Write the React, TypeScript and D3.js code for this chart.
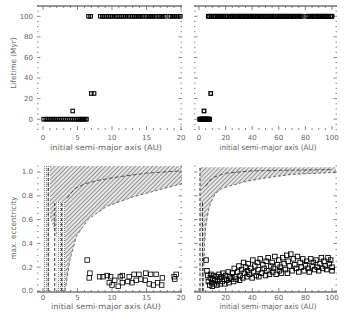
import React from 'react';
import * as d3 from 'd3';

// ---- axis ticks / labels ----
const lifeTicks = [0, 20, 40, 60, 80, 100];
const eccTicks = [0, 0.2, 0.4, 0.6, 0.8, 1.0];
const aTicksNear = [0, 5, 10, 15, 20];
const aTicksFar = [0, 20, 40, 60, 80, 100];

// ---- lifetime panels (Myr) ----
const tlShortA = [0.1, 0.4, 0.7, 1.0, 1.3, 1.6, 1.9, 2.2, 2.5, 2.8, 3.1, 3.4, 3.7, 4.0, 4.3, 4.6, 4.9, 5.1, 5.3, 5.5, 5.7, 5.9, 6.1, 6.3];
const tlLongA = [6.6, 6.9, 8.3, 8.6, 8.9, 9.2, 9.5, 9.8, 10.1, 10.5, 10.8, 11.1, 11.4, 11.7, 12.0, 12.4, 12.7, 13.0, 13.3, 13.6, 13.9, 14.2, 14.5, 14.9, 15.2, 15.5, 15.8, 16.1, 16.4, 16.8, 17.1, 17.4, 17.7, 18.4, 18.7, 19.0, 19.3, 19.6, 19.9];
const tlOther = [[4.3, 8], [7.0, 25], [7.4, 25]];

const trShortA = [0.5, 1, 1.5, 2, 2.5, 3, 3.5, 4, 4.5, 5, 5.5, 6, 6.5, 7, 7.5, 8];
const trLongA = [7, 8, 9.5, 11, 12, 13.5, 15, 16, 17, 18.5, 20, 21, 22.5, 24, 25, 26, 27.5, 29, 30, 31, 32.5, 34, 35, 36, 37.5, 39, 40, 41, 42.5, 44, 45, 46, 47.5, 49, 50, 51, 52.5, 54, 55, 56, 57.5, 59, 60, 61, 62.5, 64, 65, 66, 67.5, 69, 70, 71, 72.5, 74, 75, 76, 77, 81, 82.5, 84, 85, 86, 87.5, 89, 90, 91, 92.5, 94, 95, 96, 97.5, 99, 100];
const trOther = [[3.8, 8], [8.8, 25]];

// ---- eccentricity panels ----
const blPoints = [[6.4, 0.26], [6.8, 0.15], [6.7, 0.11], [8.2, 0.12], [8.7, 0.12], [9.3, 0.13], [9.8, 0.12], [9.6, 0.07], [10.0, 0.05], [10.4, 0.09], [10.9, 0.04], [11.2, 0.12], [11.5, 0.13], [11.5, 0.07], [12.3, 0.08], [12.5, 0.12], [12.9, 0.07], [13.2, 0.14], [13.5, 0.09], [13.9, 0.14], [14.2, 0.10], [14.8, 0.09], [14.9, 0.15], [15.4, 0.06], [15.6, 0.14], [16.0, 0.05], [16.4, 0.14], [16.6, 0.07], [17.2, 0.05], [17.3, 0.11], [19.0, 0.12], [19.3, 0.14], [19.1, 0.10]];

const brPoints = [[5.3, 0.26], [6, 0.17], [6.5, 0.13], [7, 0.08], [8, 0.05], [8.5, 0.11], [9, 0.14], [9.5, 0.07], [10, 0.04], [10.5, 0.10], [11, 0.13], [11.5, 0.06], [12, 0.09], [13, 0.12], [13.5, 0.05], [14, 0.08], [15, 0.14], [15.5, 0.10], [16, 0.06], [17, 0.12], [17.5, 0.08], [18, 0.15], [19, 0.10], [19.5, 0.06], [20, 0.13], [21, 0.09], [22, 0.16], [22.5, 0.07], [23, 0.12], [24, 0.10], [25, 0.15], [26, 0.08], [26.5, 0.19], [27, 0.12], [28, 0.10], [29, 0.16], [30, 0.21], [30.5, 0.09], [31, 0.13], [32, 0.18], [33, 0.11], [33.5, 0.24], [34, 0.15], [35, 0.20], [36, 0.12], [36.5, 0.17], [37, 0.23], [38, 0.14], [39, 0.19], [40, 0.11], [40.5, 0.26], [41, 0.16], [42, 0.21], [43, 0.13], [44, 0.24], [44.5, 0.18], [45, 0.12], [46, 0.27], [47, 0.15], [48, 0.22], [49, 0.19], [50, 0.13], [50.5, 0.25], [51, 0.17], [52, 0.28], [53, 0.14], [54, 0.21], [55, 0.24], [55.5, 0.16], [56, 0.19], [57, 0.29], [58, 0.14], [59, 0.22], [60, 0.26], [60.5, 0.17], [61, 0.20], [62, 0.15], [63, 0.28], [64, 0.23], [65, 0.18], [66, 0.30], [66.5, 0.15], [67, 0.25], [68, 0.21], [69, 0.31], [70, 0.17], [71, 0.27], [72, 0.22], [73, 0.19], [74, 0.29], [75, 0.16], [76, 0.24], [77, 0.20], [78, 0.27], [79, 0.17], [80, 0.22], [81, 0.25], [82, 0.19], [83, 0.16], [84, 0.27], [85, 0.21], [86, 0.24], [87, 0.18], [88, 0.26], [89, 0.20], [90, 0.17], [91, 0.23], [92, 0.28], [93, 0.19], [94, 0.25], [95, 0.21], [96, 0.18], [97, 0.28], [98, 0.23], [99, 0.26], [100, 0.20], [100, 0.17]];

// unstable zones (a, e)
const blLower = [[3.2, 0], [3.9, 0.26], [4.85, 0.46], [6.5, 0.6], [9.2, 0.71], [13, 0.79], [16.8, 0.85], [20, 0.9], [20.6, 0.9]];
const blUpper = [[3.5, 0.78], [4.6, 0.86], [6, 0.9], [8, 0.93], [11, 0.96], [15, 0.99], [20, 1.01]];
const blLeftEdge = [[3.2, 0], [2.0, 0], [2.0, 0.45], [1.0, 0.62], [1.0, 1.06], [20.6, 1.06]];
const blStrips = [[0, 1.0, 1.06], [2.0, 3.2, 0.75]];
const blDashV = [[0.75, 1.06], [2.7, 0.75], [1.7, 0.75]];

const brLower = [[3.4, 0], [3.7, 0.2], [4.2, 0.4], [5, 0.54], [7.5, 0.7], [10, 0.77], [12.5, 0.82], [17, 0.86], [22.5, 0.88], [35, 0.92], [50, 0.95], [70, 0.98], [100, 0.995], [103, 0.995]];
const brUpper = [[5, 0.88], [8, 0.93], [12, 0.96], [20, 0.99], [40, 1.01], [100, 1.02]];
const brLeftEdge = [[3.4, 0], [2.0, 0], [2.0, 0.45], [1.0, 0.62], [1.0, 1.04], [103, 1.04]];
const brStrips = [[0, 1.0, 1.04], [2.0, 3.2, 0.75]];
const brDashV = [[0.75, 1.04], [2.7, 0.75]];

// ---- layout ----
const W = 364, H = 325;
const nearL = 37, nearR = 182, farL = 194, farR = 337;
const topT = 6, topB = 130, botT = 166, botB = 292;

const sxNear = d3.scaleLinear().domain([0, 20]).range([43, 181]);
const sxFar = d3.scaleLinear().domain([0, 100]).range([199, 332]);
const syLife = d3.scaleLinear().domain([0, 100]).range([119.2, 16.3]);
const syEcc = d3.scaleLinear().domain([0, 1]).range([291, 172]);

const TXT = '#666';
const TICK = '#555';
const FONT = 'DejaVu Sans, sans-serif';

function Axes({ sx, sy, left, right, top, bottom, xMaj, xMinStep, yMaj, yMinStep, yMinFrom, yLabels, yFmt, xLabelY, topLine, bottomLine, topTicks }) {
  const inX = (v) => sx(v) >= left - 0.5 && sx(v) <= right + 0.5;
  const inY = (v) => sy(v) >= top && sy(v) <= bottom;
  const xMin = d3.range(sx.domain()[0], sx.domain()[1] + 0.001, xMinStep).filter(inX);
  const yMin = d3.range(yMinFrom, sy.domain()[1] * 1.2, yMinStep).filter(inY);
  return (
    <g stroke={TICK} strokeWidth={0.7}>
      {topLine && <line x1={left} x2={right} y1={top} y2={top} strokeWidth={1} stroke="#333" />}
      {bottomLine && <line x1={left} x2={right} y1={bottom} y2={bottom} strokeWidth={1} stroke="#333" />}
      {xMin.map((v, i) => {
        const maj = xMaj.includes(+v.toFixed(4));
        const len = maj ? 4 : 2;
        return (
          <g key={'x' + i}>
            <line x1={sx(v)} x2={sx(v)} y1={bottom} y2={bottom - len} />
            {topTicks && <line x1={sx(v)} x2={sx(v)} y1={top} y2={top + len} />}
          </g>
        );
      })}
      {yMin.map((v, i) => {
        const maj = yMaj.some((m) => Math.abs(m - v) < 1e-6);
        const len = maj ? 3.5 : 1.5;
        return (
          <g key={'y' + i}>
            <line x1={left} x2={left + len} y1={sy(v)} y2={sy(v)} />
            <line x1={right} x2={right - len} y1={sy(v)} y2={sy(v)} />
          </g>
        );
      })}
      <g stroke="none" fill={TXT} fontFamily={FONT} fontSize={7}>
        {xMaj.map((v) => (
          <text key={'xl' + v} x={sx(v)} y={xLabelY} textAnchor="middle">{v}</text>
        ))}
        {yLabels && yMaj.map((v) => (
          <text key={'yl' + v} x={33} y={sy(v)} dy="0.35em" textAnchor="end">{yFmt(v)}</text>
        ))}
      </g>
    </g>
  );
}

function Squares({ pts, sx, sy, size, sw }) {
  return (
    <g fill="none" stroke="#000" strokeWidth={sw}>
      {pts.map((p, i) => (
        <rect key={i} x={sx(p[0]) - size / 2} y={sy(p[1]) - size / 2} width={size} height={size} />
      ))}
    </g>
  );
}

function Zones({ sx, sy, id, edge, lower, upper, strips, dashV, left, right }) {
  const line = d3.line().x((d) => sx(d[0])).y((d) => sy(d[1]));
  const poly = [...edge, ...lower.slice().reverse()];
  return (
    <g clipPath={`url(#${id})`}>
      <clipPath id={id}>
        <rect x={left} y={botT} width={right - left} height={botB - botT} />
      </clipPath>
      <path d={line(poly) + 'Z'} fill="url(#hatch)" stroke="none" />
      {strips.map((s, i) => (
        <rect key={i} x={sx(s[0])} y={sy(s[2])} width={sx(s[1]) - sx(s[0])} height={sy(0) - sy(s[2])} fill="url(#dots)" />
      ))}
      <path d={line(lower)} fill="none" stroke="#555" strokeWidth={0.8} strokeDasharray="3 2" />
      <path d={line(upper)} fill="none" stroke="#333" strokeWidth={0.8} strokeDasharray="4 2" />
      {dashV.map((d, i) => (
        <line key={i} x1={sx(d[0])} x2={sx(d[0])} y1={sy(0)} y2={sy(d[1])} stroke="#222" strokeWidth={0.9} strokeDasharray="3 2" />
      ))}
    </g>
  );
}

export default function App() {
  const xTitle = 'initial semi-major axis (AU)';
  const tl = [...tlShortA.map((a) => [a, 0]), ...tlLongA.map((a) => [a, 100]), ...tlOther];
  const tr = [...trShortA.map((a) => [a, 0]), ...trLongA.map((a) => [a, 100]), ...trOther];
  const fmtLife = (v) => String(v);
  const fmtEcc = d3.format('.1f');
  return (
    <svg width={W} height={H} style={{ position: 'absolute', left: 0, top: 0, background: '#fff' }}>
      <defs>
        <pattern id="hatch" width={3} height={3} patternUnits="userSpaceOnUse" patternTransform="rotate(45)">
          <rect width={3} height={3} fill="#e6e6e6" />
          <line x1={0.5} y1={0} x2={0.5} y2={3} stroke="#808080" strokeWidth={0.8} />
        </pattern>
        <pattern id="dots" width={2} height={2} patternUnits="userSpaceOnUse">
          <rect width={2} height={2} fill="#f4f4f4" />
          <rect width={1} height={1} fill="#8a8a8a" />
        </pattern>
      </defs>

      {/* top left: lifetime, a < 20 AU */}
      <Axes sx={sxNear} sy={syLife} left={nearL} right={nearR} top={topT} bottom={topB}
        xMaj={aTicksNear} xMinStep={1} yMaj={lifeTicks} yMinStep={5} yMinFrom={-10}
        yLabels yFmt={fmtLife} xLabelY={139.5} topLine topTicks />
      <Squares pts={tl} sx={sxNear} sy={syLife} size={3.5} sw={1.1} />

      {/* top right: lifetime, a < 100 AU */}
      <Axes sx={sxFar} sy={syLife} left={farL} right={farR} top={topT} bottom={topB}
        xMaj={aTicksFar} xMinStep={5} yMaj={lifeTicks} yMinStep={5} yMinFrom={-10}
        yLabels={false} yFmt={fmtLife} xLabelY={139.5} topLine topTicks />
      <Squares pts={tr} sx={sxFar} sy={syLife} size={3.5} sw={1.3} />

      {/* bottom left: max eccentricity, a < 20 AU */}
      <Zones sx={sxNear} sy={syEcc} id="clipBL" edge={blLeftEdge} lower={blLower} upper={blUpper}
        strips={blStrips} dashV={blDashV} left={nearL} right={nearR} />
      <Axes sx={sxNear} sy={syEcc} left={nearL} right={nearR} top={botT} bottom={botB}
        xMaj={aTicksNear} xMinStep={1} yMaj={eccTicks} yMinStep={0.05} yMinFrom={0}
        yLabels yFmt={fmtEcc} xLabelY={299.5} bottomLine />
      <Squares pts={blPoints} sx={sxNear} sy={syEcc} size={4.5} sw={0.8} />

      {/* bottom right: max eccentricity, a < 100 AU */}
      <Zones sx={sxFar} sy={syEcc} id="clipBR" edge={brLeftEdge} lower={brLower} upper={brUpper}
        strips={brStrips} dashV={brDashV} left={farL} right={farR} />
      <Axes sx={sxFar} sy={syEcc} left={farL} right={farR} top={botT} bottom={botB}
        xMaj={aTicksFar} xMinStep={5} yMaj={eccTicks} yMinStep={0.05} yMinFrom={0}
        yLabels={false} yFmt={fmtEcc} xLabelY={299.5} bottomLine />
      <Squares pts={brPoints} sx={sxFar} sy={syEcc} size={4.5} sw={0.9} />

      {/* axis titles */}
      <g fill={TXT} fontFamily={FONT} fontSize={7.5}>
        <text x={106} y={149.5} textAnchor="middle" textLength={112} lengthAdjust="spacingAndGlyphs">{xTitle}</text>
        <text x={268} y={149.5} textAnchor="middle" textLength={97} lengthAdjust="spacingAndGlyphs">{xTitle}</text>
        <text x={106} y={308.5} textAnchor="middle" textLength={110} lengthAdjust="spacingAndGlyphs">{xTitle}</text>
        <text x={268} y={308.5} textAnchor="middle" textLength={97} lengthAdjust="spacingAndGlyphs">{xTitle}</text>
        <text transform="translate(15.5,63) rotate(-90)" textAnchor="middle" textLength={51} lengthAdjust="spacingAndGlyphs">Lifetime (Myr)</text>
        <text transform="translate(15.5,228) rotate(-90)" textAnchor="middle" textLength={63} lengthAdjust="spacingAndGlyphs">max. eccentricity</text>
      </g>
    </svg>
  );
}
